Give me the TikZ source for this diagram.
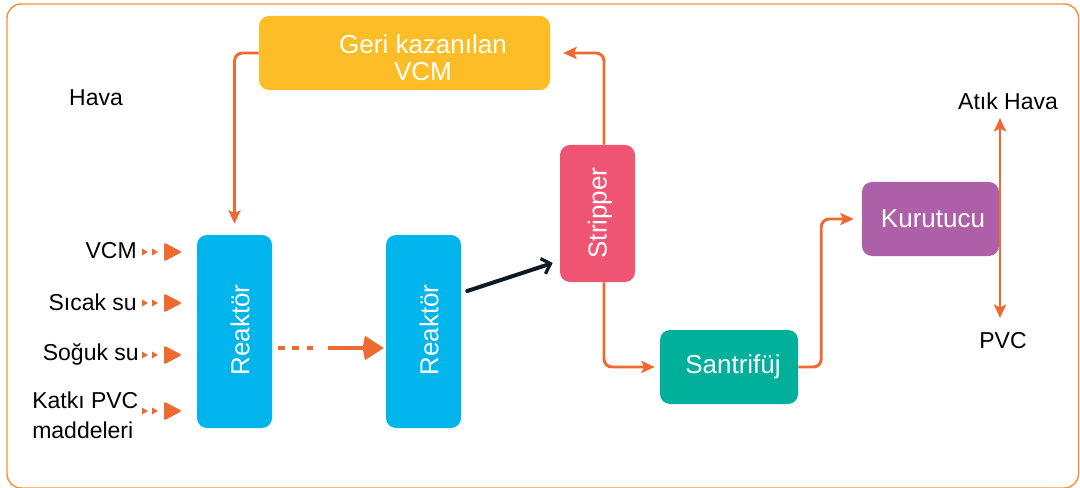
\documentclass[tikz,border=0pt]{standalone}
\usepackage{fontspec}
\setmainfont{Liberation Sans}
\usetikzlibrary{arrows.meta}
\definecolor{cOr}{HTML}{EE6A31}
\definecolor{cFrame}{HTML}{F7923C}
\definecolor{cY}{HTML}{FDBD26}
\definecolor{cB}{HTML}{00B5EC}
\definecolor{cP}{HTML}{EF5573}
\definecolor{cT}{HTML}{00B09B}
\definecolor{cV}{HTML}{AD60A8}
\definecolor{cK}{HTML}{111A22}
\def\u{0.75pt}
\tikzset{
  box/.style={rounded corners=10*\u, inner sep=0pt},
  wtext/.style={text=white, font=\fontsize{19.5}{20.5}\selectfont, inner sep=0pt, align=center},
  ltext/.style={text=black, font=\fontsize{17.25}{22.5}\selectfont, inner sep=0pt},
  conn/.style={draw=cOr, line width=2.2pt, rounded corners=8*\u, -{Stealth[length=10pt,width=9pt,inset=2pt]}},
  pics/feed/.style={code={
    \fill[cOr] (0,-3.5) -- (6,0) -- (0,3.5) -- cycle;
    \fill[cOr] (10,-3.5) -- (16,0) -- (10,3.5) -- cycle;
    \fill[cOr, rounded corners=1.5pt] (22,-9.5) -- (40,0) -- (22,9.5) -- cycle;
  }}
}
\begin{document}
\begin{tikzpicture}[x=0.75pt,y=-0.75pt]
\useasboundingbox (0,0) rectangle (1080,488);
\draw[cFrame, line width=1.1pt, rounded corners=14*\u] (7,4) rectangle (1078.5,488);

% boxes
\node[box, fill=cY, minimum width=291*\u, minimum height=74*\u] (geri) at (404.5,53) {};
\node[wtext] (geritxt) at (423,58) {Geri kazanılan\\VCM};
\node[box, fill=cB, minimum width=75*\u, minimum height=193*\u] (r1) at (234.5,331.5) {};
\node[wtext, rotate=90] (r1txt) at (240,330) {Reaktör};
\node[box, fill=cB, minimum width=75*\u, minimum height=193*\u] (r2) at (423.5,331.5) {};
\node[wtext, rotate=90] (r2txt) at (429,330) {Reaktör};
\node[box, fill=cP, minimum width=75*\u, minimum height=137*\u] (str) at (597.5,213.5) {};
\node[wtext, rotate=90] (strtxt) at (600,213) {Stripper};
\node[box, fill=cT, minimum width=138*\u, minimum height=74*\u] (san) at (729,367) {};
\node[wtext] (santxt) at (733,367) {Santrifüj};
\node[box, fill=cV, minimum width=137*\u, minimum height=74*\u] (kur) at (930.5,219) {};
\node[wtext] (kurtxt) at (933,219) {Kurutucu};

% labels
\node[ltext] (hava) at (96,98) {Hava};
\node[ltext, anchor=east] (vcm) at (137,251) {VCM};
\node[ltext, anchor=east] (sicak) at (137,302) {Sıcak su};
\node[ltext, anchor=east] (soguk) at (139,354) {Soğuk su};
\node[ltext, anchor=west, align=left] (katki) at (32,415) {Katkı PVC\\maddeleri};
\node[ltext] (atik) at (1008,101) {Atık Hava};
\node[ltext] (pvc) at (1003,341) {PVC};

% feed arrows
\pic at (142,252) {feed};
\pic at (142,303) {feed};
\pic at (142,355) {feed};
\pic at (142,411) {feed};

% connectors
\draw[conn, shorten >=11*\u] (geri.west) -| (r1.north);
\draw[conn, shorten >=13*\u] ([xshift=6.5*\u]str.north) |- (geri.east);
\draw[conn, shorten >=5*\u] ([xshift=6.5*\u]str.south) |- (san.west);
\draw[conn, shorten >=8*\u] (san.east) -- ++(23,0) |- (kur.west);

\coordinate (atikend) at (1000,118);
\coordinate (pvcend) at (1000,318);
\draw[conn, {Stealth[length=10pt,width=9pt,inset=2pt]}-{Stealth[length=10pt,width=9pt,inset=2pt]}] (atikend) -- (pvcend);

% dashed transfer between reactors
\coordinate (d1) at (278,348);
\coordinate (d2) at (316,348);
\coordinate (d3) at (328,348);
\coordinate (d4) at (384,348);
\draw[cOr, line width=3.4pt, dash pattern=on 5.2pt off 5.5pt] (d1) -- (d2);
\draw[cOr, line width=3.4pt, -{Stealth[length=14pt,width=17pt,inset=-2pt]}] (d3) -- (d4);

% black arrow to stripper
\draw[cK, line width=3pt, line cap=round, -{Straight Barb[length=6pt,width=12pt,line width=2.4pt]}] ([shift={(6,-40.5)}]r2.east) -- ([shift={(-7,49.5)}]str.west);
\end{tikzpicture}
\end{document}
